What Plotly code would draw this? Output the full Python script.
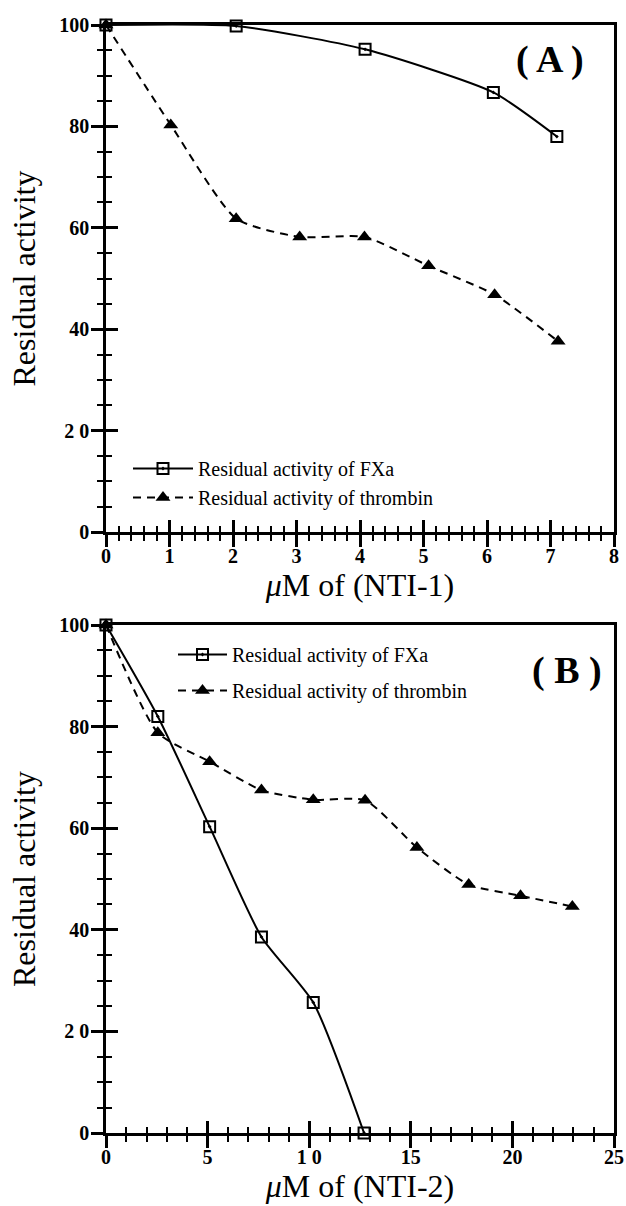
import plotly.graph_objects as go

# ---------------- data ----------------
# Panel A : NTI-1
a_fxa_x = [0, 2.05, 4.08, 6.1, 7.1]
a_fxa_y = [100, 99.8, 95.2, 86.7, 78.0]
a_thr_x = [0, 1.02, 2.05, 3.05, 4.07, 5.08, 6.12, 7.12]
a_thr_y = [100, 80.3, 61.8, 58.2, 58.2, 52.5, 46.8, 37.6]

# Panel B : NTI-2
b_fxa_x = [0, 2.55, 5.1, 7.65, 10.2, 12.7]
b_fxa_y = [100, 82.0, 60.3, 38.6, 25.7, 0]
b_thr_x = [0, 2.55, 5.1, 7.65, 10.2, 12.75, 15.3, 17.85, 20.4, 22.95]
b_thr_y = [100, 78.8, 73.1, 67.5, 65.6, 65.5, 56.2, 48.9, 46.7, 44.6]

y_tickvals = [0, 20, 40, 60, 80, 100]
y_ticktext = ["0", "2 0", "40", "60", "80", "100"]
a_x_tickvals = [0, 1, 2, 3, 4, 5, 6, 7, 8]
a_x_ticktext = ["0", "1", "2", "3", "4", "5", "6", "7", "8"]
b_x_tickvals = [0, 5, 10, 15, 20, 25]
b_x_ticktext = ["0", "5", "1 0", "15", "20", "25"]

name_fxa = "Residual activity of FXa"
name_thr = "Residual activity of thrombin"

SERIF = "Liberation Serif, Times New Roman, serif"
W, H = 626, 1206

fig = go.Figure()

fxa_style = dict(mode="lines+markers", line=dict(color="black", width=2, shape="spline", smoothing=0.6),
                 marker=dict(symbol="square-open-dot", size=11, color="black", line=dict(width=2, color="black")),
                 cliponaxis=False)
thr_style = dict(mode="lines+markers", line=dict(color="black", width=2, dash="8px,6px", shape="spline", smoothing=0.6),
                 marker=dict(symbol="triangle-up", size=13, color="black"),
                 cliponaxis=False)

# Each panel uses a second, coincident pair of axes that draws the inward half of the ticks,
# so that the ticks cross the axis lines as in the original figure.
fig.add_trace(go.Scatter(x=a_fxa_x, y=a_fxa_y, name=name_fxa, xaxis="x", yaxis="y",
                         legend="legend", legendgroup="a1", **fxa_style))
fig.add_trace(go.Scatter(x=a_thr_x, y=a_thr_y, name=name_thr, xaxis="x3", yaxis="y3",
                         legend="legend", legendgroup="a2", **thr_style))
fig.add_trace(go.Scatter(x=b_fxa_x, y=b_fxa_y, name=name_fxa, xaxis="x2", yaxis="y2",
                         legend="legend2", legendgroup="b1", **fxa_style))
fig.add_trace(go.Scatter(x=b_thr_x, y=b_thr_y, name=name_thr, xaxis="x4", yaxis="y4",
                         legend="legend2", legendgroup="b2", **thr_style))

xdom = [106 / W, 614 / W]
ydomA = [1 - 532 / H, 1 - 25 / H]
ydomB = [1 - 1133 / H, 1 - 625 / H]

tickfont = dict(family=SERIF, size=20, color="black", weight="bold")
titlefont = dict(family=SERIF, size=32, color="black")


def main_axis(dom, anchor, rng, tv, tt, minor_dtick, title, standoff, lab_off):
    return dict(domain=dom, anchor=anchor, range=rng, tickmode="array", tickvals=tv, ticktext=tt,
                ticks="outside", ticklen=12, tickwidth=2.5, tickcolor="black",
                minor=dict(dtick=minor_dtick, tick0=0, ticks="outside", ticklen=6, tickwidth=2, tickcolor="black",
                           showgrid=False),
                showline=True, linewidth=2.5, linecolor="black", mirror=True,
                showgrid=False, zeroline=False, tickfont=tickfont, automargin=False,
                ticklabelstandoff=lab_off,
                title=dict(text=title, font=titlefont, standoff=standoff))


def inner_tick_axis(anchor, rng, tv, minor_dtick, dom=None, over=None):
    d = dict(anchor=anchor, range=rng, tickmode="array", tickvals=tv,
             ticks="inside", ticklen=12, tickwidth=2.5, tickcolor="black",
             minor=dict(dtick=minor_dtick, tick0=0, ticks="inside", ticklen=6, tickwidth=2, tickcolor="black",
                        showgrid=False),
             showticklabels=False, showline=False, showgrid=False, zeroline=False, automargin=False)
    if dom is not None:
        d["domain"] = dom
    if over is not None:
        d["overlaying"] = over
    return d


fig.update_layout(
    width=W, height=H, margin=dict(l=0, r=0, t=0, b=0, autoexpand=False),
    paper_bgcolor="white", plot_bgcolor="rgba(0,0,0,0)",
    font=dict(family=SERIF, color="black"),
    xaxis=main_axis(xdom, "y", [0, 8], a_x_tickvals, a_x_ticktext, 0.2, "<i>μ</i>M of (NTI-1)", 4, -8),
    yaxis=main_axis(ydomA, "x", [0, 100], y_tickvals, y_ticktext, 5, "Residual activity", 15, -2),
    xaxis2=main_axis(xdom, "y2", [0, 25], b_x_tickvals, b_x_ticktext, 1, "<i>μ</i>M of (NTI-2)", 4, -8),
    yaxis2=main_axis(ydomB, "x2", [0, 100], y_tickvals, y_ticktext, 5, "Residual activity", 15, -2),
    xaxis3=inner_tick_axis("y3", [0, 8], a_x_tickvals, 0.2, dom=xdom),
    yaxis3=inner_tick_axis("x3", [0, 100], y_tickvals, 5, dom=ydomA),
    xaxis4=inner_tick_axis("y4", [0, 25], b_x_tickvals, 1, over="x2"),
    yaxis4=inner_tick_axis("x4", [0, 100], y_tickvals, 5, over="y2"),
    showlegend=True,
    legend=dict(x=128 / W, y=1 - 449 / H, xanchor="left", yanchor="top", bgcolor="rgba(0,0,0,0)",
                font=dict(family=SERIF, size=20, color="black"), itemwidth=60,
                traceorder="grouped", tracegroupgap=0),
    legend2=dict(x=173 / W, y=1 - 635 / H, xanchor="left", yanchor="top", bgcolor="rgba(0,0,0,0)",
                 font=dict(family=SERIF, size=20, color="black"), itemwidth=49,
                 traceorder="grouped", tracegroupgap=7),
    annotations=[
        dict(text="( A )", x=550 / W, y=1 - 60 / H, xref="paper", yref="paper", showarrow=False,
             xanchor="center", yanchor="middle",
             font=dict(family=SERIF, size=38, color="black", weight="bold")),
        dict(text="( B )", x=567 / W, y=1 - 670 / H, xref="paper", yref="paper", showarrow=False,
             xanchor="center", yanchor="middle",
             font=dict(family=SERIF, size=38, color="black", weight="bold")),
    ],
)

fig.write_html("out.html")
